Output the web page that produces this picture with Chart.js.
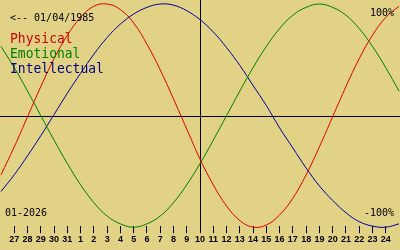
<!DOCTYPE html>
<html>
<head>
<meta charset="utf-8">
<script src="https://cdn.jsdelivr.net/npm/chart.js@4"></script>
<style>
    html, body { margin: 0; padding: 0; background: #e1d285; }
    #wrap { width: 400px; height: 250px; }
</style>
</head>
<body>
<div id="wrap"><canvas id="graph" width="400" height="250"></canvas></div>
<script>
// dias del eje x (26 y 25 son solo los bordes)
const dias = ['26','27','28','29','30','31','1','2','3','4','5','6','7','8','9','10',
    '11','12','13','14','15','16','17','18','19','20','21','22','23','24','25'];

const fisico = [-0.53,-0.28,-0.01,0.26,0.51,0.72,0.88,0.98,1.00,0.95,0.83,0.64,0.41,0.15,-0.12,-0.39,
    -0.62,-0.81,-0.94,-1.00,-0.98,-0.89,-0.74,-0.53,-0.28,-0.01,0.26,0.51,0.72,0.88,0.98];
const emocional = [0.62,0.43,0.22,0,-0.22,-0.43,-0.62,-0.78,-0.90,-0.97,-1,-0.97,-0.90,-0.78,-0.62,-0.43,
    -0.22,0,0.22,0.43,0.62,0.78,0.90,0.97,1,0.97,0.90,0.78,0.62,0.43,0.22];
const intelectual = [-0.68,-0.53,-0.36,-0.18,0.01,0.20,0.38,0.55,0.70,0.82,0.91,0.97,1.00,0.99,0.94,0.86,
    0.75,0.61,0.45,0.27,0.09,-0.11,-0.29,-0.47,-0.63,-0.76,-0.87,-0.95,-0.99,-1.00,-0.97];

const hoy = '10';
const nacimiento = '<-- 01/04/1985';
const mes = '01-2026';

const ultimo = dias.length - 1;
const mono = '"DejaVu Sans Mono", monospace';

const textos = {
    id: 'textos',
    beforeDraw: (chart) => {
        const ctx = chart.ctx;
        ctx.save();
        ctx.fillStyle = '#e1d285';
        ctx.fillRect(0, 0, chart.width, chart.height);
        // linea del cero
        const y0 = Math.round(chart.scales.y.getPixelForValue(0)) + 0.5;
        ctx.strokeStyle = '#000';
        ctx.lineWidth = 1;
        ctx.beginPath();
        ctx.moveTo(0, y0);
        ctx.lineTo(chart.width, y0);
        ctx.stroke();
        ctx.restore();
    },
    afterDraw: (chart) => {
        const ctx = chart.ctx;
        const escribir = (txt, x, y, size, color, align) => {
            ctx.save();
            ctx.translate(x, y);
            ctx.scale(1, 1.12);
            ctx.font = size + 'px ' + mono;
            ctx.fillStyle = color;
            ctx.textAlign = align || 'left';
            ctx.textBaseline = 'alphabetic';
            ctx.fillText(txt, 0, 0);
            ctx.restore();
        };
        escribir(nacimiento, 10, 21, 10, '#000');
        escribir('Physical', 10, 43, 13, '#d00000');
        escribir('Emotional', 10, 58, 13, '#008000');
        escribir('Intellectual', 10, 73, 13, '#000080');
        escribir('100%', 394, 16, 10, '#000', 'right');
        escribir('-100%', 394, 216, 10, '#000', 'right');
        escribir(mes, 5, 216, 10, '#000');
    }
};

const linea = (data, color) => ({
    data: data,
    borderColor: color,
    borderWidth: 1,
    pointRadius: 0,
    tension: 0.4,
    fill: false,
    clip: false
});

new Chart(document.getElementById('graph'), {
    type: 'line',
    data: {
        labels: dias,
        datasets: [
            linea(fisico, '#e00000'),
            linea(emocional, '#008000'),
            linea(intelectual, '#0000a0')
        ]
    },
    options: {
        responsive: false,
        animation: false,
        layout: { padding: { left: 0, right: 0, top: 0, bottom: 4 } },
        plugins: { legend: { display: false }, tooltip: { enabled: false } },
        scales: {
            x: {
                offset: false,
                border: { display: false },
                grid: {
                    drawOnChartArea: true,
                    drawTicks: true,
                    tickLength: 7,
                    color: (c) => (dias[c.index] === hoy ? '#000' : 'rgba(0,0,0,0)'),
                    tickColor: (c) => (c.index === 0 || c.index === ultimo ? 'rgba(0,0,0,0)' : '#000')
                },
                ticks: {
                    autoSkip: false,
                    maxRotation: 0,
                    padding: 1,
                    color: '#000',
                    font: { family: '"Liberation Sans", Arial, sans-serif', size: 9, weight: 'bold' },
                    callback: (v, i) => (i === 0 || i === ultimo ? '' : dias[i])
                }
            },
            y: {
                display: false,
                min: -0.991,
                max: 1.036
            }
        }
    },
    plugins: [textos]
});
</script>
</body>
</html>
